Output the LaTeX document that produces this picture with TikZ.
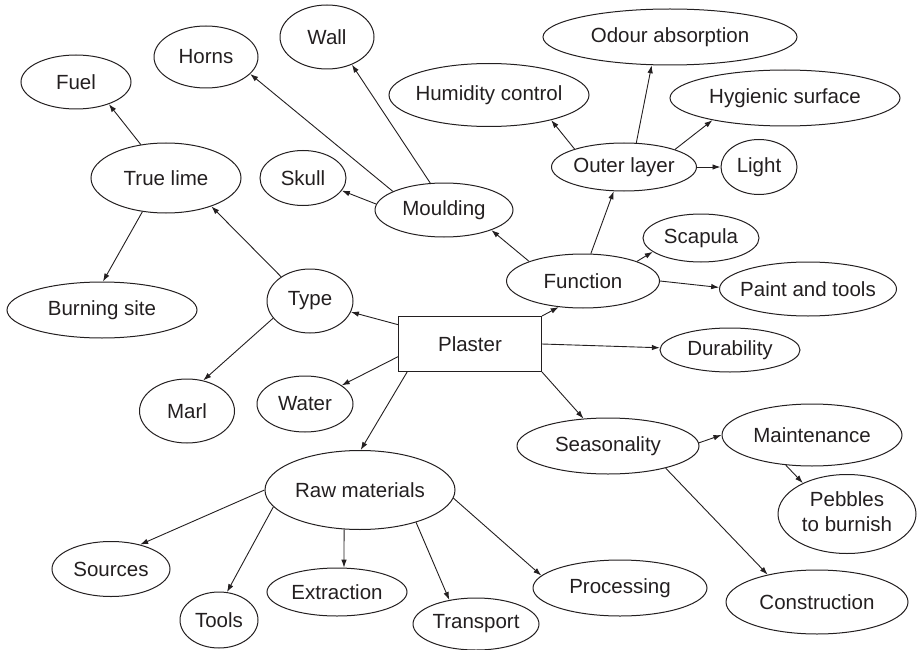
\documentclass[tikz,border=0pt]{standalone}
\usepackage{fontspec}
\setmainfont{Liberation Sans}
\usetikzlibrary{arrows.meta,shapes.geometric}
\definecolor{ink}{HTML}{231F20}
\newcommand\ctext[1]{\makebox[0pt]{#1}}
\begin{document}
\begin{tikzpicture}[x=1pt,y=-1pt,
  every node/.style={text=ink},
  el/.style={draw=ink, ellipse, inner sep=0pt, line width=1pt,
    font=\fontsize{20.5}{25}\selectfont},
  box/.style={draw=ink, rectangle, inner sep=0pt, line width=1pt,
    font=\fontsize{20.5}{25}\selectfont},
  arr/.style={draw=ink, line width=0.9pt, -{Latex[length=8pt,width=5.5pt]}}]
\useasboundingbox (0,0) rectangle (918,650);
% nodes
\node[el, minimum width=110, minimum height=54] (fuel) at (76,82) {\ctext{Fuel}};
\node[el, minimum width=104, minimum height=62] (horns) at (206,57) {\ctext{Horns}};
\node[el, minimum width=94, minimum height=64] (wall) at (327,37) {\ctext{Wall}};
\node[el, minimum width=150, minimum height=70] (truelime) at (166,178) {\ctext{True lime}};
\node[el, minimum width=86, minimum height=55] (skull) at (303,178) {\ctext{Skull}};
\node[el, minimum width=138, minimum height=54] (moulding) at (444,210) {\ctext{Moulding}};
\node[el, minimum width=254, minimum height=56] (odour) at (670,37) {\ctext{Odour absorption}};
\node[el, minimum width=200, minimum height=63] (humidity) at (489,95) {\ctext{Humidity control}};
\node[el, minimum width=230, minimum height=56] (hygienic) at (785,98) {\ctext{Hygienic surface}};
\node[el, minimum width=145, minimum height=48] (outer) at (624,167) {\ctext{Outer layer}};
\node[el, minimum width=76, minimum height=55] (light) at (759,167) {\ctext{Light}};
\node[el, minimum width=116, minimum height=48] (scapula) at (701,238) {\ctext{Scapula}};
\node[el, minimum width=153, minimum height=54] (function) at (583,281) {\ctext{Function}};
\node[el, minimum width=177, minimum height=54] (paint) at (808,289) {\ctext{Paint and tools}};
\node[box, minimum width=143, minimum height=55] (plaster) at (470,344) {\ctext{Plaster}};
\node[el, minimum width=190, minimum height=56] (burning) at (102,310) {\ctext{Burning site}};
\node[el, minimum width=86, minimum height=64] (type) at (310,301) {\ctext{Type}};
\node[el, minimum width=96, minimum height=56] (water) at (305,404) {\ctext{Water}};
\node[el, minimum width=95, minimum height=64] (marl) at (187,411) {\ctext{Marl}};
\node[el, minimum width=140, minimum height=44] (durability) at (730,350) {\ctext{Durability}};
\node[el, minimum width=182, minimum height=56] (seasonality) at (608,446) {\ctext{Seasonality}};
\node[el, minimum width=180, minimum height=62] (maintenance) at (812,435) {\ctext{Maintenance}};
\node[el, minimum width=138, minimum height=79] (pebbles) at (847,514) {\ctext{\begin{tabular}{@{}c@{}}Pebbles\\to burnish\end{tabular}}};
\node[el, minimum width=190, minimum height=79] (raw) at (360,490) {\ctext{Raw materials}};
\node[el, minimum width=118, minimum height=55] (sources) at (111,569) {\ctext{Sources}};
\node[el, minimum width=78, minimum height=56] (tools) at (219,620) {\ctext{Tools}};
\node[el, minimum width=140, minimum height=48] (extraction) at (337,592) {\ctext{Extraction}};
\node[el, minimum width=126, minimum height=52] (transport) at (476,624) {\ctext{Transport}};
\node[el, minimum width=174, minimum height=56] (processing) at (620,588) {\ctext{Processing}};
\node[el, minimum width=182, minimum height=64] (construction) at (817,602) {\ctext{Construction}};
% connectors
\draw[arr] (plaster) -- (type);
\draw[arr] (plaster.north east) -- (function.227);
\draw[arr] (plaster.east) -- (durability);
\draw[arr] (plaster.190) -- (water);
\draw[arr] (plaster.204) -- (raw.89);
\draw[arr] (plaster.south east) -- (seasonality);
\draw[arr] (type.140) -- (truelime.-32);
\draw[arr] (type.205) -- (marl.62);
\draw[arr] (truelime.127) -- (fuel.-34);
\draw[arr] (truelime.235) -- (burning.88);
\draw[arr] (moulding.160) -- (horns.-21);
\draw[arr] (moulding.117) -- (wall.-48);
\draw[arr] (moulding.175) -- (skull.-18);
\draw[arr] (function.160) -- (moulding.-23);
\draw[arr] (function.74) -- (outer.-113);
\draw[arr] (function.20) -- (scapula.196);
\draw[arr] (function.0) -- (paint.179);
\draw[arr] (outer.160) -- (humidity.-22);
\draw[arr] (outer.63) -- (odour.237);
\draw[arr] (outer.19) -- (hygienic.197);
\draw[arr] (outer.east) -- (light.west);
\draw[arr] (seasonality.2) -- (maintenance.180);
\draw[arr] (maintenance.229) -- (pebbles.145);
\draw[arr] (seasonality.-21) -- (construction.151);
\draw[arr] (raw.180) -- (sources.40);
\draw[arr] (raw.191) -- (tools.74);
\draw[arr] (raw.248) -- (extraction.74);
\draw[arr] (raw.-30) -- (transport.138);
\draw[arr] (raw.-5) -- (processing.171);
\end{tikzpicture}
\end{document}
